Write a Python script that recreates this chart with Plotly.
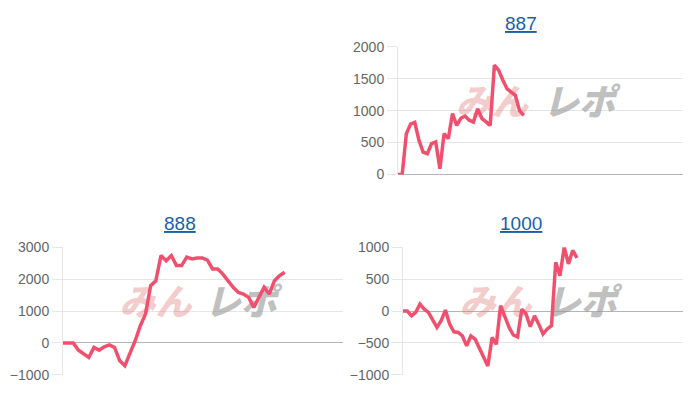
import plotly.graph_objects as go

# panel titles
titles = ["887", "888", "1000"]

# difference values per machine
vals_887 = [0, 0, 640, 790, 815, 535, 350, 325, 485, 510, 90, 640, 560, 955, 770,
            880, 915, 850, 820, 1030, 880, 820, 770, 1715, 1635, 1480, 1345, 1290,
            1240, 1000, 925]
vals_888 = [0, 0, 0, -230, -350, -455, -140, -225, -120, -60, -140, -560, -715, -350,
            70, 540, 905, 1795, 1950, 2740, 2580, 2740, 2425, 2425, 2690, 2635, 2665,
            2665, 2600, 2320, 2320, 2160, 1950, 1745, 1585, 1535, 1430, 1115, 1430,
            1745, 1535, 1950, 2110, 2215]
vals_1000 = [0, 0, -75, -20, 110, 30, -20, -125, -255, -150, 15, -205, -325, -335,
             -390, -545, -390, -440, -570, -700, -860, -415, -520, 85, -75, -255, -375,
             -405, 30, -45, -245, -75, -205, -360, -280, -230, 765, 555, 1000, 740,
             950, 835]

# x slots per chart (the line does not fill the axis)
x_slots = [68, 54.3, 66]
y_ranges = [[0, 2000], [-1000, 3000], [-1000, 1000]]
y_dticks = [500, 1000, 500]

# how the page ends up on screen (measured): x shifted by 8, y = 15.9 + 0.958 * fig_y
W, H = 700, 400
OFF_X = 8
OFF_Y, SCALE_Y = 15.9, 0.958


def px_x(a, b):
    return [(a - OFF_X) / W, (b - OFF_X) / W]


def fy(y):
    return (y - OFF_Y) / SCALE_Y


def px_y(top, bottom):
    return [1 - fy(bottom) / H, 1 - fy(top) / H]


# panel boxes in screen pixels
x_domains = [px_x(398, 683), px_x(63, 343), px_x(403, 683)]
y_domains = [px_y(46.7, 174), px_y(246.7, 374), px_y(246.7, 374)]
title_pos = [((521 - OFF_X) / W, 1 - fy(23) / H),
             ((180 - OFF_X) / W, 1 - fy(223) / H),
             ((521 - OFF_X) / W, 1 - fy(223) / H)]

LINE = "#f0506e"
GRID = "#e6e6e6"
ZERO = "#b4b4b4"
TICK_FONT = dict(family="Arial, Liberation Sans, sans-serif", size=14, color="#666666")

fig = go.Figure()
series = [vals_887, vals_888, vals_1000]

for i, vals in enumerate(series):
    xa = "x" if i == 0 else f"x{i + 1}"
    ya = "y" if i == 0 else f"y{i + 1}"
    cx = x_slots[i] / 2
    span = y_ranges[i][1] - y_ranges[i][0]
    cy = y_ranges[i][0] + span * 0.54
    # watermark, drawn first so the line sits on top
    fig.add_trace(go.Scatter(
        x=[cx - x_slots[i] * 0.17, cx + x_slots[i] * 0.135], y=[cy, cy],
        mode="text", text=["みん", "レポ"], textposition="middle center",
        textfont=dict(family="Noto Sans CJK JP", size=36, weight=900, style="italic",
                      color=["rgba(225,120,120,0.38)", "rgba(150,150,150,0.6)"]),
        xaxis=xa, yaxis=ya, hoverinfo="skip", showlegend=False
    ))
    fig.add_trace(go.Scatter(
        x=list(range(len(vals))), y=vals, mode="lines",
        line=dict(color=LINE, width=3.5), xaxis=xa, yaxis=ya, showlegend=False
    ))

layout = dict(
    width=W, height=H,
    margin=dict(l=0, r=0, t=0, b=0),
    paper_bgcolor="white", plot_bgcolor="white",
    annotations=[],
)
for i in range(3):
    sfx = "" if i == 0 else str(i + 1)
    layout[f"xaxis{sfx}"] = dict(
        domain=x_domains[i], range=[0, x_slots[i]], anchor=f"y{sfx}",
        showgrid=False, zeroline=False, showticklabels=False, showline=False, ticks=""
    )
    layout[f"yaxis{sfx}"] = dict(
        domain=y_domains[i], range=y_ranges[i], dtick=y_dticks[i], anchor=f"x{sfx}",
        gridcolor=GRID, gridwidth=1, zeroline=True, zerolinecolor=ZERO, zerolinewidth=1,
        showline=True, linecolor=GRID, linewidth=1,
        ticks="outside", ticklen=10, tickcolor=GRID, tickfont=TICK_FONT
    )
    layout["annotations"].append(dict(
        text=f"<u>{titles[i]}</u>", x=title_pos[i][0], y=title_pos[i][1],
        xref="paper", yref="paper", xanchor="center", yanchor="middle", showarrow=False,
        font=dict(family="Arial, Liberation Sans, sans-serif", size=19, color="#1a5fa8")
    ))

fig.update_layout(**layout)
fig.write_html("out.html")
